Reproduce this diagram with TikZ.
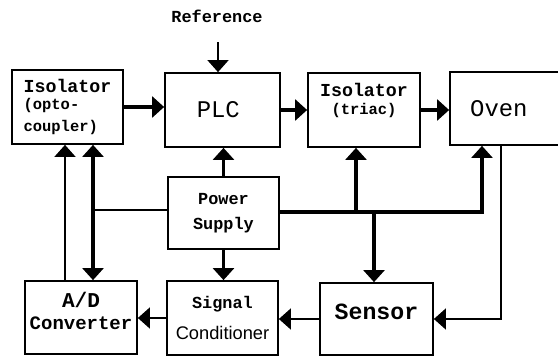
\documentclass[tikz,border=0pt]{standalone}
\usepackage{fontspec}
\setmonofont{Liberation Mono}
\setsansfont{Liberation Sans}
\usetikzlibrary{arrows.meta}
\newcommand{\mono}[1]{\fontsize{#1}{#1}\selectfont\ttfamily\bfseries}
\newcommand{\plain}[1]{\fontsize{#1}{#1}\selectfont\ttfamily}
\newcommand{\lift}[1]{\rule[-#1]{0pt}{0pt}}

\begin{document}
\begin{tikzpicture}[
  x=0.025cm, y=-0.025cm,
  >={Triangle[width=0.52cm,length=0.3cm]},
  blk/.style={rectangle, draw=black, fill=white, line width=1.2pt, inner sep=0pt,
              minimum width=2.8cm, minimum height=1.85cm, align=center},
  arr/.style={->, line width=2.3pt},
  tarr/.style={->, line width=1.5pt},
  darr/.style={<->, line width=2.3pt},
  tline/.style={line width=1.5pt},
  lbl/.style={inner sep=0pt},
]
  \clip (0,0) rectangle (558,356);
  \fill[white] (0,0) rectangle (558,356);

  % Blocks
  \node[blk, minimum width=2.775cm, align=left] (iso1) at (67.5,107)
    {\mono{13}Isolator\\[0pt]\mono{11}(opto-\\[4pt]\mono{11}coupler)};
  \node[blk, minimum width=2.875cm] (plc) at (222.5,110) {\plain{17}PLC\hspace*{6pt}};
  \node[blk] (iso2) at (364,110)
    {\mono{13}Isolator\\[1pt]\mono{11}(triac)\lift{16pt}};
  \node[blk, minimum width=2.9cm, minimum height=1.825cm] (oven) at (508,108.5)
    {\plain{17}Oven\hspace*{13pt}};
  \node[blk, minimum width=2.775cm, minimum height=1.8cm] (ps) at (223.5,213)
    {\mono{12}Power\\[6pt]\mono{12}Supply};
  \node[blk, minimum height=1.825cm] (adc) at (81,317.5)
    {\mono{15}A/D\\[3.5pt]\mono{13.5}Converter\lift{10pt}};
  \node[blk, minimum width=2.775cm] (sc) at (222.5,318)
    {\mono{12}Signal\\[10pt]\sffamily\fontsize{13}{13}\selectfont Conditioner};
  \node[blk, minimum width=2.825cm, minimum height=1.8cm] (sensor) at (376.5,319)
    {\mono{16.5}Sensor\lift{10pt}};
  \node[lbl] (ref) at (217,16) {\mono{12}Reference};

  % Forward path
  \coordinate (refin) at (218,42);
  \draw[tarr] (refin) -- (refin |- plc.north);
  \draw[arr] (iso1.east) -- (iso1.east -| plc.west);
  \draw[arr] (plc.east) -- (plc.east -| iso2.west);
  \draw[arr] (iso2.east) -- (iso2.east -| oven.west);

  % Power supply feeds
  \coordinate (rbus) at (482,212);
  \coordinate (tap1) at (356,212);
  \coordinate (tap2) at (374,212);
  \coordinate (lbus) at (93,210);
  \draw[arr] (ps.north) -- (ps.north |- plc.south);
  \draw[arr] (ps.south) -- (ps.south |- sc.north);
  \draw[arr] (ps.east |- rbus) -- (rbus) -- (rbus |- oven.south);
  \draw[arr] (tap1) -- (tap1 |- iso2.south);
  \draw[arr] (tap2) -- (tap2 |- sensor.north);
  \draw[tline] (ps.west |- lbus) -- (lbus);
  \draw[darr] (lbus |- iso1.south) -- (lbus |- adc.north);

  % Feedback path
  \coordinate (lret) at (65,250);
  \coordinate (ofb) at (501,317);
  \draw[tarr] (ofb |- oven.south) |- (sensor.east);
  \draw[tarr] (sensor.west) -- (sensor.west -| sc.east);
  \draw[tarr] (sc.west) -- (sc.west -| adc.east);
  \draw[tarr] (lret |- adc.north) -- (lret |- iso1.south);
\end{tikzpicture}
\end{document}
